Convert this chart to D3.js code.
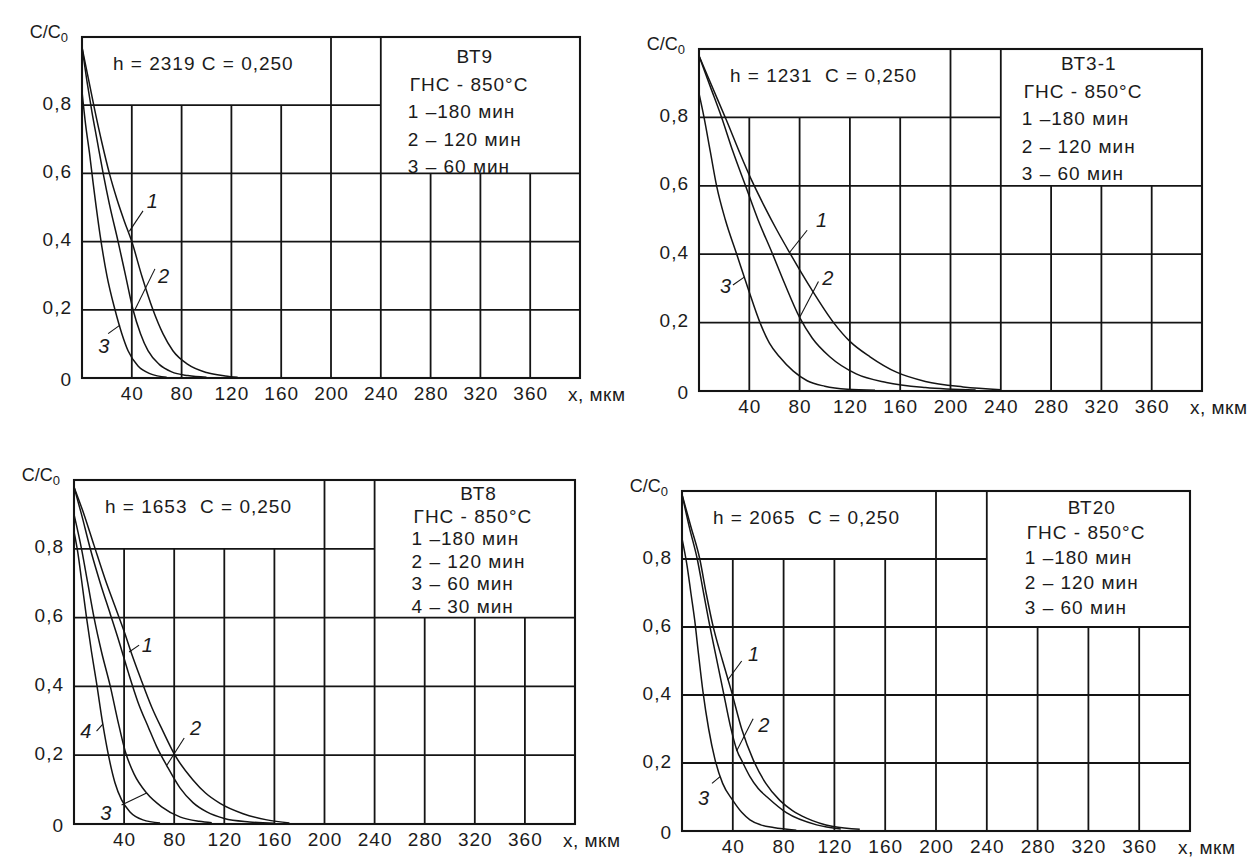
<!DOCTYPE html>
<html>
<head>
<meta charset="utf-8">
<script src="https://cdn.jsdelivr.net/npm/d3@7"></script>
<style>
  body { margin: 0; background: #fff; }
  svg text { font-family: "Liberation Sans", Arial, sans-serif; fill: #1b1b1b; white-space: pre; }
</style>
</head>
<body>
<svg id="chart" width="1255" height="859"></svg>
<script>
// ---- data ----
var xTicks = [40, 80, 120, 160, 200, 240, 280, 320, 360];
var yTicks = [0, 0.2, 0.4, 0.6, 0.8];
var alloys = ["ВТ9", "ВТ3-1", "ВТ8", "ВТ20"];
var hValues = ["2319", "1231", "1653", "2065"];
var cValue = "0,250";
var regime = "ГНС - 850°С";
var times = ["1 –180 мин", "2 – 120 мин", "3 – 60 мин", "4 – 30 мин"];

// curves: [x, мкм ; C/C0]
var bt9_180 = [[0,0.97],[5,0.88],[10,0.79],[16,0.69],[22,0.60],[28,0.525],[34,0.46],[40,0.40],[48,0.30],[57,0.20],[65,0.13],[73,0.08],[85,0.04],[100,0.016],[115,0.006],[125,0.002]];
var bt9_120 = [[0,0.97],[4,0.87],[8,0.78],[12,0.70],[17,0.60],[22,0.51],[29,0.40],[35,0.30],[41,0.20],[47,0.13],[53,0.08],[62,0.04],[72,0.018],[85,0.007],[100,0.002]];
var bt9_60 = [[0,0.84],[3,0.74],[6,0.66],[9,0.57],[14.5,0.42],[20,0.30],[26.5,0.20],[32,0.13],[37,0.08],[45,0.035],[55,0.012],[68,0.002]];

var bt31_180 = [[0,0.98],[11,0.885],[22,0.79],[32,0.70],[42,0.615],[52,0.54],[62,0.47],[72,0.405],[89,0.30],[107,0.20],[120,0.145],[136,0.10],[157,0.055],[180,0.028],[210,0.012],[240,0.004]];
var bt31_120 = [[0,0.98],[9,0.89],[18,0.80],[27,0.70],[37,0.60],[47,0.50],[58,0.405],[68,0.315],[80,0.215],[90,0.155],[104,0.10],[125,0.05],[149,0.025],[180,0.01],[220,0.003]];
var bt31_60 = [[0,0.87],[4,0.80],[9,0.70],[14,0.60],[21,0.50],[30,0.40],[39,0.30],[48.5,0.20],[56,0.14],[64,0.10],[75,0.058],[86,0.03],[100,0.014],[118,0.005],[140,0.002]];

var bt8_180 = [[0,0.98],[8,0.90],[16,0.81],[25,0.71],[33,0.63],[40,0.56],[46,0.495],[53,0.425],[62,0.34],[71,0.27],[80.6,0.20],[95,0.128],[105,0.09],[116.6,0.06],[135,0.03],[154,0.012],[172,0.003]];
var bt8_120 = [[0,0.98],[6,0.90],[13,0.80],[21,0.70],[29,0.61],[36,0.53],[43.4,0.44],[51,0.355],[59.5,0.28],[66,0.225],[74,0.17],[84.6,0.105],[95,0.062],[106,0.035],[120,0.016],[140,0.006],[160,0.002]];
var bt8_60 = [[0,0.90],[6,0.80],[11,0.70],[16,0.60],[22,0.50],[29,0.40],[35,0.30],[41,0.21],[48,0.145],[58,0.09],[70,0.05],[85,0.02],[100,0.008],[110,0.004]];
var bt8_30 = [[0,0.85],[3,0.79],[6,0.71],[10,0.60],[14,0.50],[18,0.41],[23,0.29],[27.5,0.20],[32.7,0.12],[38,0.07],[44.7,0.035],[55,0.012],[68.7,0.003]];

var bt20_180 = [[0,0.99],[7,0.895],[14,0.80],[19,0.70],[24,0.61],[32,0.50],[39,0.41],[47,0.30],[56,0.21],[66,0.14],[77,0.09],[87,0.06],[98,0.038],[119,0.013],[140,0.005]];
var bt20_120 = [[0,0.99],[6,0.89],[12,0.80],[17,0.70],[21,0.62],[27,0.51],[32.5,0.41],[38,0.31],[43,0.24],[48,0.20],[53.5,0.16],[60,0.125],[67,0.10],[82.5,0.053],[106,0.018],[125,0.006]];
var bt20_60 = [[0,0.86],[4,0.78],[7,0.70],[10,0.62],[13,0.52],[16.5,0.41],[21,0.30],[26,0.21],[32,0.14],[40,0.09],[47,0.055],[53.5,0.033],[62,0.018],[72,0.01],[90,0.002]];

// curve numbers: leader line from/to and text anchor, in data units
var bt9Labels = [
  {t: "1", from: [38, 0.43], to: [49, 0.49], at: [52, 0.50]},
  {t: "2", from: [42.5, 0.20], to: [58.6, 0.32], at: [61, 0.28]},
  {t: "3", from: [21, 0.13], to: [30.5, 0.155], at: [13, 0.073]}
];
var bt31Labels = [
  {t: "1", from: [72, 0.405], to: [86, 0.47], at: [93, 0.48]},
  {t: "2", from: [80, 0.215], to: [95, 0.32], at: [98, 0.31]},
  {t: "3", from: [27, 0.31], to: [36, 0.333], at: [16.7, 0.287]}
];
var bt8Labels = [
  {t: "1", from: [44, 0.50], to: [52, 0.52], at: [54, 0.50]},
  {t: "2", from: [74, 0.17], to: [88, 0.25], at: [92.6, 0.26]},
  {t: "3", from: [38, 0.055], to: [58, 0.09], at: [21, 0.012]},
  {t: "4", from: [18, 0.27], to: [23, 0.29], at: [5, 0.25]}
];
var bt20Labels = [
  {t: "1", from: [36, 0.444], to: [47, 0.50], at: [52, 0.50]},
  {t: "2", from: [43, 0.235], to: [56, 0.33], at: [60, 0.29]},
  {t: "3", from: [23.6, 0.14], to: [30, 0.16], at: [12.6, 0.076]}
];

// ---- layout ----
var panels = [
  {left: 82,  top: 37,  right: 580,  bottom: 378, gap: " ",  legX: 27, legY: 26, legStep: 27.5,
   curves: [bt9_180, bt9_120, bt9_60], labels: bt9Labels},
  {left: 699, top: 49,  right: 1202, bottom: 391, gap: "  ", legX: 21, legY: 21, legStep: 27.5,
   curves: [bt31_180, bt31_120, bt31_60], labels: bt31Labels},
  {left: 74,  top: 480, right: 575,  bottom: 824, gap: "  ", legX: 37, legY: 20, legStep: 22.6,
   curves: [bt8_180, bt8_120, bt8_60, bt8_30], labels: bt8Labels},
  {left: 682, top: 491, right: 1190, bottom: 831, gap: "  ", legX: 38, legY: 23, legStep: 25,
   curves: [bt20_180, bt20_120, bt20_60], labels: bt20Labels}
];

var svg = d3.select("#chart");
var ink = "#141414";

function drawPanel(p, i) {
    var x = d3.scaleLinear().domain([0, 400]).range([p.left, p.right]);
    var y = d3.scaleLinear().domain([0, 1]).range([p.bottom, p.top]);
    var g = svg.append("g");

    // grid: header cell (0..200, 0.8..1) and legend box (240..400, 0.6..1) left open
    var grid = g.append("g").attr("stroke", ink).attr("stroke-width", 1.8).attr("fill", "none");
    grid.selectAll(".h").data([0.2, 0.4, 0.6]).enter().append("line")
        .attr("x1", x(0)).attr("x2", x(400))
        .attr("y1", function (d) { return y(d); })
        .attr("y2", function (d) { return y(d); });
    grid.append("line")
        .attr("x1", x(0)).attr("x2", x(240))
        .attr("y1", y(0.8)).attr("y2", y(0.8));
    grid.selectAll(".v").data(xTicks).enter().append("line")
        .attr("x1", function (d) { return x(d); })
        .attr("x2", function (d) { return x(d); })
        .attr("y1", y(0))
        .attr("y2", function (d) { return y(d < 200 ? 0.8 : d > 240 ? 0.6 : 1); });
    grid.append("rect")
        .attr("x", x(0)).attr("y", y(1))
        .attr("width", x(400) - x(0)).attr("height", y(0) - y(1))
        .attr("stroke-width", 2.1);

    // axes (labels only, grid acts as ticks)
    var xa = g.append("g")
        .attr("transform", "translate(0," + p.bottom + ")")
        .call(d3.axisBottom(x).tickValues(xTicks).tickSize(0).tickPadding(9));
    xa.select(".domain").remove();
    xa.attr("font-size", 19).selectAll("text").style("letter-spacing", "1px");

    var ya = g.append("g")
        .attr("transform", "translate(" + p.left + ",0)")
        .call(d3.axisLeft(y).tickValues(yTicks).tickSize(0).tickPadding(10)
            .tickFormat(function (d) { return d === 0 ? "0" : d3.format(".1f")(d).replace(".", ","); }));
    ya.select(".domain").remove();
    ya.attr("font-size", 19).selectAll("text")
        .attr("dy", function (d) { return d === 0 ? "0.42em" : "0.22em"; })
        .style("letter-spacing", "1px");

    // axis titles
    var yt = g.append("text")
        .attr("x", x(0) - 14).attr("y", y(1) + 1)
        .attr("text-anchor", "end").attr("font-size", 18);
    yt.append("tspan").text("C/C");
    yt.append("tspan").attr("font-size", 13).attr("dy", 4).text("0");

    g.append("text")
        .attr("x", x(400) - 12).attr("y", y(0) + 23)
        .attr("font-size", 19).style("letter-spacing", "0.5px")
        .text("х, мкм");

    // header
    g.append("text")
        .attr("x", x(0) + 31).attr("y", y(1) + 33)
        .attr("font-size", 19).style("letter-spacing", "1px")
        .text("h = " + hValues[i] + p.gap + "C = " + cValue);

    // legend box text
    var lx = x(240) + p.legX;
    var leg = g.append("g").attr("font-size", 19).style("letter-spacing", "1px");
    leg.append("text")
        .attr("x", lx + 67).attr("y", y(1) + p.legY)
        .attr("text-anchor", "middle")
        .text(alloys[i]);
    leg.append("text")
        .attr("x", lx + 2).attr("y", y(1) + p.legY + p.legStep)
        .text(regime);
    leg.selectAll(".t").data(times.slice(0, p.curves.length)).enter().append("text")
        .attr("x", lx)
        .attr("y", function (d, k) { return y(1) + p.legY + p.legStep * (k + 2); })
        .text(function (d) { return d; });

    // curves
    var line = d3.line()
        .x(function (d) { return x(d[0]); })
        .y(function (d) { return y(d[1]); })
        .curve(d3.curveMonotoneX);
    g.selectAll(".curve").data(p.curves).enter().append("path")
        .attr("fill", "none").attr("stroke", ink).attr("stroke-width", 1.5)
        .attr("d", line);

    // curve numbers
    g.selectAll(".lead").data(p.labels).enter().append("line")
        .attr("stroke", ink).attr("stroke-width", 1.1)
        .attr("x1", function (d) { return x(d.from[0]); })
        .attr("y1", function (d) { return y(d.from[1]); })
        .attr("x2", function (d) { return x(d.to[0]); })
        .attr("y2", function (d) { return y(d.to[1]); });
    g.selectAll(".num").data(p.labels).enter().append("text")
        .attr("x", function (d) { return x(d.at[0]); })
        .attr("y", function (d) { return y(d.at[1]); })
        .attr("font-size", 20).attr("font-style", "italic")
        .text(function (d) { return d.t; });
}

panels.forEach(drawPanel);
</script>
</body>
</html>
